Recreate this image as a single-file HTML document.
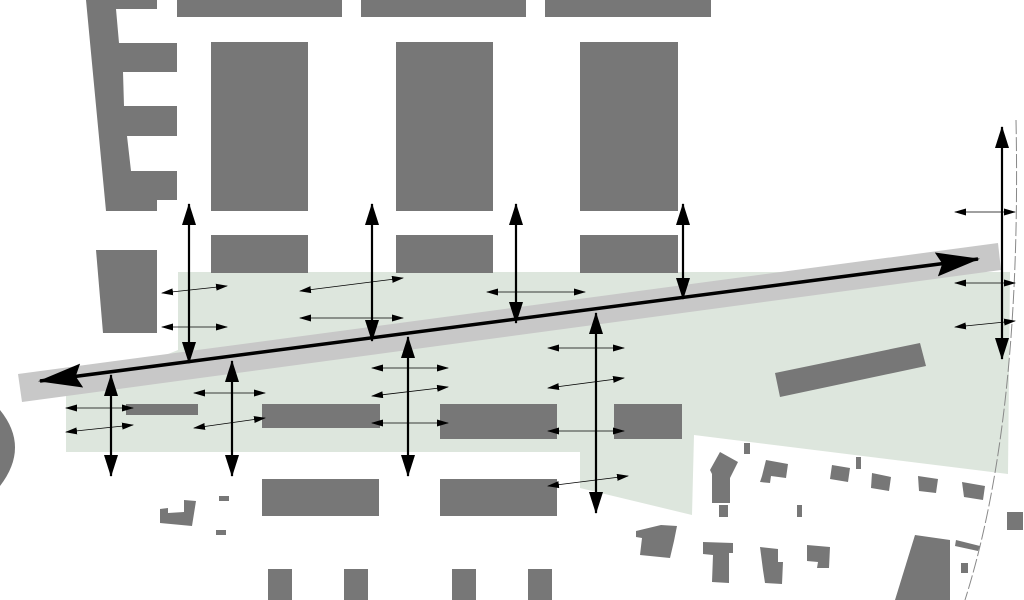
<!DOCTYPE html>
<html><head><meta charset="utf-8"><style>html,body{margin:0;padding:0;background:#fff}svg{display:block}</style></head>
<body>
<svg width="1024" height="600" viewBox="0 0 1024 600" xmlns="http://www.w3.org/2000/svg">
<defs>
<marker id="b" markerWidth="22" markerHeight="14" refX="21" refY="7" orient="auto-start-reverse" markerUnits="userSpaceOnUse"><path d="M0,0 L22,7 L0,14 Z" fill="#000"/></marker>
<marker id="m" markerWidth="44" markerHeight="24" refX="42" refY="12" orient="auto-start-reverse" markerUnits="userSpaceOnUse"><path d="M0,0 L44,12 L0,24 L6,12 Z" fill="#000"/></marker>
<marker id="s" markerWidth="12" markerHeight="7" refX="11" refY="3.5" orient="auto-start-reverse" markerUnits="userSpaceOnUse"><path d="M0,0 L12,3.5 L0,7 Z" fill="#000"/></marker>
</defs>
<polygon points="178,272 1010,272 1008,474 694,435 692,515 580,488 580,452 66,452 66,395 178,350" fill="#dde6dd"/>
<path d="M1016,120 Q1022,420 965,600" fill="none" stroke="#888" stroke-width="1" stroke-dasharray="14,3"/>
<g fill="#777">
<rect x="177" y="0" width="165" height="17"/><rect x="361" y="0" width="165" height="17"/><rect x="545" y="0" width="166" height="17"/>
<rect x="211" y="42" width="97" height="169"/><rect x="396" y="42" width="97" height="169"/><rect x="580" y="42" width="98" height="169"/>
<rect x="211" y="235" width="97" height="38"/><rect x="396" y="235" width="97" height="38"/><rect x="580" y="235" width="98" height="38"/>
<polygon points="86,0 157,0 157,9 116,9 119,43 177,43 177,72 123,72 124,106 177,106 177,136 127,136 131,171 177,171 177,200 157,200 157,211 106,211"/>
<polygon points="96,250 157,250 157,333 103,333"/>
<path d="M0,410 Q30,447 0,486 Z"/>
<rect x="126" y="404" width="72" height="11"/><rect x="262" y="404" width="118" height="24"/><rect x="440" y="404" width="117" height="35"/><rect x="614" y="404" width="68" height="35"/>
<rect x="262" y="479" width="117" height="37"/><rect x="440" y="479" width="117" height="37"/>
<rect x="268" y="569" width="24" height="31"/><rect x="344" y="569" width="24" height="31"/><rect x="452" y="569" width="24" height="31"/><rect x="528" y="569" width="24" height="31"/>
<polygon points="775,373 920,343 926,366 780,397"/>
<polygon points="160,509 168,508 168,513 184,512 184,500 196,501 192,526 160,523"/>
<rect x="219" y="496" width="10" height="5"/><rect x="216" y="530" width="10" height="5"/>
<polygon points="720,452 738,462 730,478 730,503 712,503 712,474 710,470"/><rect x="719" y="505" width="9" height="12"/>
<polygon points="766,460 788,464 786,478 771,476 770,483 760,482 762,476"/>
<polygon points="832,465 850,468 848,482 830,479"/><rect x="856" y="457" width="5" height="12"/><rect x="797" y="505" width="5" height="12"/>
<polygon points="872,473 891,477 889,491 871,488"/><polygon points="918,476 938,479 936,493 919,491"/><polygon points="962,482 985,486 983,500 964,497"/><rect x="1007" y="512" width="16" height="18"/><rect x="744" y="443" width="6" height="11"/>
<polygon points="636,531 661,525 677,526 674,541 670,558 640,555 642,538 636,537"/>
<polygon points="703,542 733,543 733,553 729,553 729,583 712,582 713,555 703,554"/>
<polygon points="760,547 778,549 778,562 783,562 782,584 765,583 763,570"/>
<polygon points="807,545 830,547 829,568 817,568 818,562 807,561"/>
<polygon points="915,535 950,540 950,600 895,600"/><polygon points="956,540 980,546 978,551 955,546"/><rect x="961" y="563" width="7" height="10"/>
</g>
<polygon points="18,374 998,243 1001,270 22,402" fill="#c8c8c8"/>
<line x1="40" y1="381" x2="978" y2="259" stroke="#000" stroke-width="3.5" marker-start="url(#m)" marker-end="url(#m)"/>
<g stroke="#000" stroke-width="2.2" fill="none" marker-start="url(#b)" marker-end="url(#b)">
<line x1="189" y1="204" x2="189" y2="363"/><line x1="372" y1="204" x2="372" y2="341"/><line x1="516" y1="204" x2="516" y2="323"/><line x1="683" y1="204" x2="683" y2="299"/><line x1="1002" y1="127" x2="1002" y2="359"/>
<line x1="111" y1="375" x2="111" y2="476"/><line x1="232" y1="361" x2="232" y2="476"/><line x1="408" y1="337" x2="408" y2="476"/><line x1="596" y1="313" x2="596" y2="513"/>
</g>
<g stroke="#000" stroke-width="0.8" fill="none" marker-start="url(#s)" marker-end="url(#s)">
<line x1="162" y1="293" x2="227" y2="286"/><line x1="162" y1="327" x2="227" y2="327"/>
<line x1="300" y1="291" x2="403" y2="278"/><line x1="300" y1="318" x2="403" y2="318"/>
<line x1="487" y1="292" x2="585" y2="292"/>
<line x1="548" y1="348" x2="624" y2="348"/><line x1="548" y1="388" x2="624" y2="378"/><line x1="548" y1="431" x2="624" y2="431"/><line x1="548" y1="486" x2="628" y2="476"/>
<line x1="372" y1="368" x2="448" y2="368"/><line x1="372" y1="396" x2="448" y2="387"/><line x1="372" y1="423" x2="448" y2="423"/>
<line x1="194" y1="393" x2="265" y2="393"/><line x1="194" y1="428" x2="265" y2="418"/>
<line x1="66" y1="408" x2="133" y2="408"/><line x1="66" y1="432" x2="133" y2="425"/>
<line x1="955" y1="212" x2="1015" y2="212"/><line x1="955" y1="283" x2="1015" y2="283"/><line x1="955" y1="327" x2="1015" y2="321"/>
</g>
</svg>
</body></html>
